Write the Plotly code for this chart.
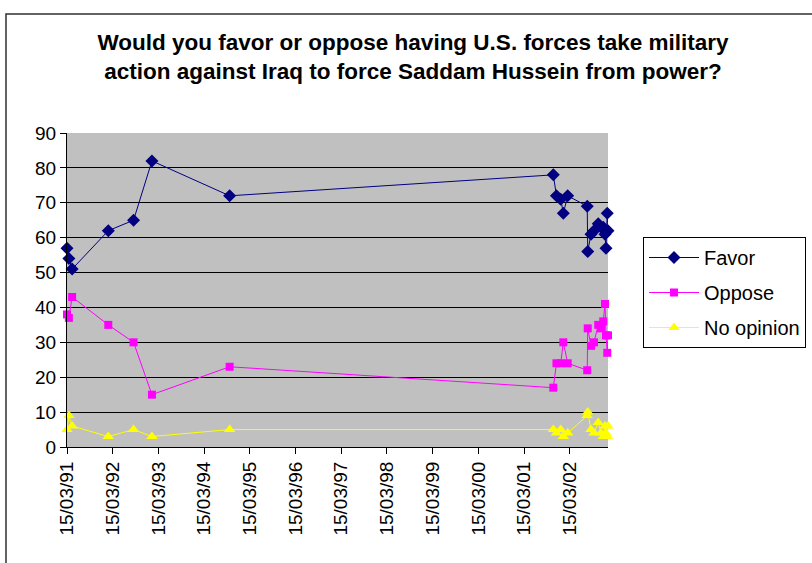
import plotly.graph_objects as go

# Poll dates
dates = [
    "1991-03-15", "1991-03-30", "1991-04-25",
    "1992-02-08", "1992-08-28", "1993-01-22",
    "1994-10-05",
    "2001-11-04", "2001-11-29", "2002-01-02", "2002-01-23", "2002-02-27",
    "2002-08-02", "2002-08-06", "2002-09-01", "2002-09-25", "2002-10-29",
    "2002-11-20", "2002-12-08", "2002-12-22", "2002-12-30", "2003-01-09",
    "2003-01-15",
]
favor = [57, 54, 51, 62, 65, 82, 72,
         78, 72, 71, 67, 72,
         69, 56, 61, 62, 64, 63, 63, 61, 57, 67, 62]
oppose = [38, 37, 43, 35, 30, 15, 23,
          17, 24, 24, 30, 24,
          22, 34, 29, 30, 35, 34, 36, 41, 32, 27, 32]
no_opinion = [5, 9, 6, 3, 5, 3, 5,
              5, 4, 5, 3, 4,
              9, 10, 5, 4, 7, 4, 3, 6, 4, 3, 6]

title_text = ("Would you favor or oppose having U.S. forces take military<br>"
              "action against Iraq to force Saddam Hussein from power?")

FONT = "Liberation Sans, Arial, sans-serif"

fig = go.Figure()
fig.add_trace(go.Scatter(
    x=dates, y=favor, name="Favor", mode="lines+markers", legendgroup="a",
    line=dict(color="#000080", width=1),
    marker=dict(symbol="diamond", size=10, color="#000080"),
    cliponaxis=False,
))
fig.add_trace(go.Scatter(
    x=dates, y=oppose, name="Oppose", mode="lines+markers", legendgroup="b",
    line=dict(color="#FF00FF", width=1),
    marker=dict(symbol="square", size=8, color="#FF00FF"),
    cliponaxis=False,
))
fig.add_trace(go.Scatter(
    x=dates, y=no_opinion, name="No opinion", mode="lines+markers", legendgroup="c",
    line=dict(color="#FFFF00", width=1),
    marker=dict(symbol="triangle-up", size=10, color="#FFFF00"),
    cliponaxis=False,
))

L, R, T, B = 67, 608, 133, 447
W, H = 812, 563
pw, ph = R - L, B - T

fig.update_layout(
    width=W, height=H,
    margin=dict(l=L, r=W - R, t=T, b=H - B, pad=0, autoexpand=False),
    paper_bgcolor="white",
    plot_bgcolor="#C0C0C0",
    font=dict(family=FONT, size=18, color="black"),
    title=dict(
        text="<b>" + title_text + "</b>",
        x=413 / W, xanchor="center",
        y=1 - 50 / H, yanchor="middle", yref="container",
        font=dict(family=FONT, size=22.5, color="black"),
    ),
    xaxis=dict(
        type="date",
        range=["1991-03-15", "2003-01-15"],
        tick0="1991-03-15", dtick="M12",
        tickformat="%d/%m/%y",
        tickangle=-90,
        ticks="outside", ticklen=6, tickcolor="black",
        showline=True, linecolor="black", linewidth=1,
        showgrid=False, zeroline=False,
        tickfont=dict(family=FONT, size=19),
    ),
    yaxis=dict(
        range=[0, 90], dtick=10,
        ticks="outside", ticklen=6, tickcolor="black",
        showline=True, linecolor="black", linewidth=1,
        showgrid=True, gridcolor="black", gridwidth=1,
        zeroline=False,
        tickfont=dict(family=FONT, size=19),
    ),
    legend=dict(
        x=(643 - L) / pw, xanchor="left",
        y=(B - 237) / ph, yanchor="top",
        bgcolor="white", bordercolor="black", borderwidth=1,
        font=dict(family=FONT, size=20),
        itemwidth=50,
        tracegroupgap=6,
    ),
    showlegend=True,
)

# Chart-area border (partially visible in the frame)
fig.add_shape(
    type="rect", xref="paper", yref="paper",
    x0=(6 - L) / pw, x1=(W + 20 - L) / pw,
    y0=(B - (H + 20)) / ph, y1=(B - 14) / ph,
    line=dict(color="#303030", width=1.5), fillcolor="rgba(0,0,0,0)",
    layer="below",
)

fig.write_html("out.html")
